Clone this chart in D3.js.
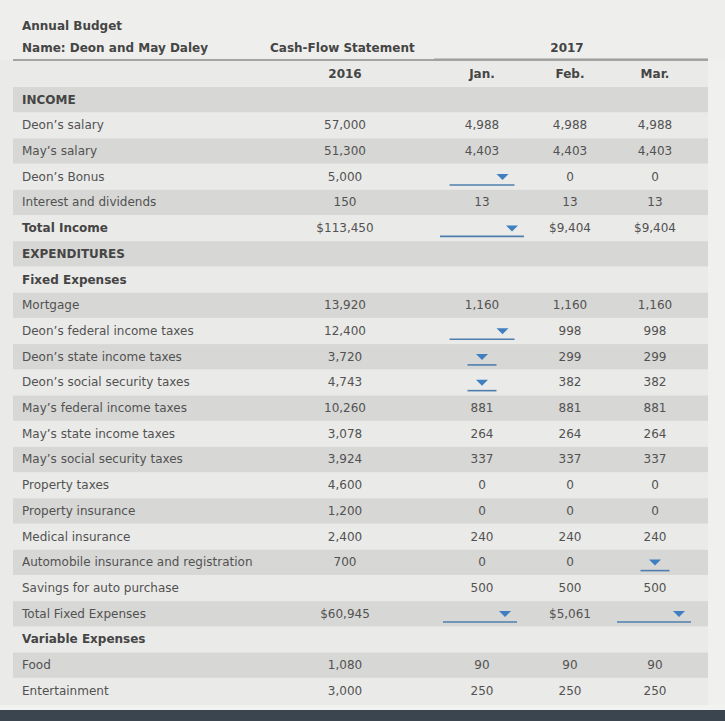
<!DOCTYPE html>
<html>
<head>
<meta charset="utf-8">
<script src="https://cdn.jsdelivr.net/npm/d3@7"></script>
<style>
  html, body { margin: 0; padding: 0; background: #ecebe9; }
  svg { display: block; }
</style>
</head>
<body>
<svg id="chart" width="725" height="721"></svg>
<script>
// ---------- data ----------
const title = "Annual Budget";
const nameLine = "Name: Deon and May Daley";
const statementTitle = "Cash-Flow Statement";
const yearGroup = "2017";
const columns = ["2016", "Jan.", "Feb.", "Mar."];

const rowLabels = [
  "INCOME", "Deon’s salary", "May’s salary", "Deon’s Bonus", "Interest and dividends",
  "Total Income", "EXPENDITURES", "Fixed Expenses", "Mortgage",
  "Deon’s federal income taxes", "Deon’s state income taxes", "Deon’s social security taxes",
  "May’s federal income taxes", "May’s state income taxes", "May’s social security taxes",
  "Property taxes", "Property insurance", "Medical insurance",
  "Automobile insurance and registration", "Savings for auto purchase",
  "Total Fixed Expenses", "Variable Expenses", "Food", "Entertainment"
];
const boldRows = ["INCOME", "Total Income", "EXPENDITURES", "Fixed Expenses", "Variable Expenses"];
const dollarRows = ["Total Income", "Total Fixed Expenses"];

// "" = empty cell, null = blank drop-down input cell
const values2016 = ["", 57000, 51300, 5000, 150, 113450, "", "", 13920, 12400, 3720, 4743,
  10260, 3078, 3924, 4600, 1200, 2400, 700, "", 60945, "", 1080, 3000];
const valuesJan = ["", 4988, 4403, null, 13, null, "", "", 1160, null, null, null,
  881, 264, 337, 0, 0, 240, 0, 500, null, "", 90, 250];
const valuesFeb = ["", 4988, 4403, 0, 13, 9404, "", "", 1160, 998, 299, 382,
  881, 264, 337, 0, 0, 240, 0, 500, 5061, "", 90, 250];
const valuesMar = ["", 4988, 4403, 0, 13, 9404, "", "", 1160, 998, 299, 382,
  881, 264, 337, 0, 0, 240, null, 500, null, "", 90, 250];

// ---------- layout ----------
const svg = d3.select("#chart");
const W = 725, H = 721;
const left = 13, right = 708, labelX = 22;

const colX = d3.scaleOrdinal().domain(columns).range([345, 482, 570, 655]);
const y = d3.scaleBand().domain(d3.range(rowLabels.length)).range([86.5, 703.5]).paddingInner(0);

const seriesByCol = { "2016": values2016, "Jan.": valuesJan, "Feb.": valuesFeb, "Mar.": valuesMar };
const fmt = d3.format(",");
const fmtD = d3.format("$,");

const textCol = "#525252", boldCol = "#454545";
const font = "'DejaVu Sans', Verdana, sans-serif";
const fs = 12;

// background with light right margin and dark bottom bar
svg.append("rect").attr("x", 0).attr("y", 0).attr("width", W).attr("height", H).attr("fill", "#eaeae8");
svg.append("rect").attr("x", right).attr("y", 0).attr("width", W - right).attr("height", 710).attr("fill", "#f0f0ee");
svg.append("rect").attr("x", 0).attr("y", 0).attr("width", W).attr("height", 60).attr("fill", "#eeeeec");
svg.append("rect").attr("x", 0).attr("y", 705).attr("width", W).attr("height", 5).attr("fill", "#f2f2f0");
svg.append("rect").attr("x", 0).attr("y", 710).attr("width", W).attr("height", 11).attr("fill", "#3b4550");

// header texts
svg.append("text").attr("x", labelX).attr("y", 26).attr("dy", "0.35em")
  .attr("font-family", font).attr("font-size", fs).attr("font-weight", "bold").attr("fill", boldCol).text(title);
svg.append("text").attr("x", labelX).attr("y", 48).attr("dy", "0.35em")
  .attr("font-family", font).attr("font-size", fs).attr("font-weight", "bold").attr("fill", boldCol).text(nameLine);
svg.append("text").attr("x", 270).attr("y", 48).attr("dy", "0.35em")
  .attr("font-family", font).attr("font-size", fs).attr("font-weight", "bold").attr("fill", boldCol).text(statementTitle);
svg.append("text").attr("x", 567).attr("y", 48).attr("dy", "0.35em").attr("text-anchor", "middle")
  .attr("font-family", font).attr("font-size", fs).attr("font-weight", "bold").attr("fill", boldCol).text(yearGroup);

svg.append("line").attr("x1", left).attr("x2", right).attr("y1", 60).attr("y2", 60)
  .attr("stroke", "#8c8c8a").attr("stroke-width", 1.5);
svg.append("line").attr("x1", 434).attr("x2", right).attr("y1", 59).attr("y2", 59)
  .attr("stroke", "#9a9a98").attr("stroke-width", 1);

// column headers
svg.selectAll("text.colhead").data(columns).join("text")
  .attr("class", "colhead")
  .attr("x", d => colX(d)).attr("y", 74).attr("dy", "0.35em").attr("text-anchor", "middle")
  .attr("font-family", font).attr("font-size", fs).attr("font-weight", "bold").attr("fill", boldCol)
  .text(d => d);

// row shading
const rows = svg.selectAll("g.row").data(rowLabels).join("g")
  .attr("class", "row")
  .attr("transform", (d, i) => `translate(0,${y(i)})`);

rows.filter((d, i) => i % 2 === 0).append("rect")
  .attr("x", left).attr("width", right - left)
  .attr("y", 0.5).attr("height", y.bandwidth() - 0.5)
  .attr("fill", "#d7d7d5");

rows.append("text")
  .attr("x", labelX).attr("y", y.bandwidth() / 2).attr("dy", "0.35em")
  .attr("font-family", font).attr("font-size", fs)
  .attr("font-weight", d => boldRows.includes(d) ? "bold" : "normal")
  .attr("fill", d => boldRows.includes(d) ? boldCol : textCol)
  .text(d => d);

// cells
const cells = [];
rowLabels.forEach((lab, i) => {
  columns.forEach(c => {
    cells.push({ row: i, label: lab, col: c, v: seriesByCol[c][i] });
  });
});

const textCells = cells.filter(d => d.v !== null && d.v !== "");
svg.selectAll("text.cell").data(textCells).join("text")
  .attr("class", "cell")
  .attr("x", d => colX(d.col))
  .attr("y", d => y(d.row) + y.bandwidth() / 2).attr("dy", "0.35em")
  .attr("text-anchor", "middle")
  .attr("font-family", font).attr("font-size", fs).attr("fill", textCol)
  .text(d => dollarRows.includes(d.label) ? fmtD(d.v) : fmt(d.v));

// drop-down input cells: wide for totals, medium / narrow for others
function ddWidth(d) {
  if (d.label === "Total Income") return 84;
  if (d.label === "Total Fixed Expenses") return 74;
  if (d.label === "Deon’s Bonus" || d.label === "Deon’s federal income taxes") return 65;
  return 29;
}
function ddCenter(d) {
  if (d.label === "Total Fixed Expenses" && d.col === "Jan.") return 480;
  if (d.label === "Total Fixed Expenses" && d.col === "Mar.") return 654;
  return colX(d.col);
}
const ddCells = cells.filter(d => d.v === null);
const dd = svg.selectAll("g.dd").data(ddCells).join("g")
  .attr("class", "dd")
  .attr("transform", d => `translate(${ddCenter(d)},${y(d.row) + y.bandwidth() / 2})`);
dd.append("line")
  .attr("x1", d => -ddWidth(d) / 2).attr("x2", d => ddWidth(d) / 2)
  .attr("y1", 8.5).attr("y2", 8.5)
  .attr("stroke", "#4f7fae").attr("stroke-width", 1.6);
dd.append("path")
  .attr("d", d => {
    const cx = ddWidth(d) > 40 ? ddWidth(d) / 2 - 12 : 0;
    return `M${cx - 6},-2.5 L${cx + 6},-2.5 L${cx},3.5 Z`;
  })
  .attr("fill", "#3f7fc1");
</script>
</body>
</html>
